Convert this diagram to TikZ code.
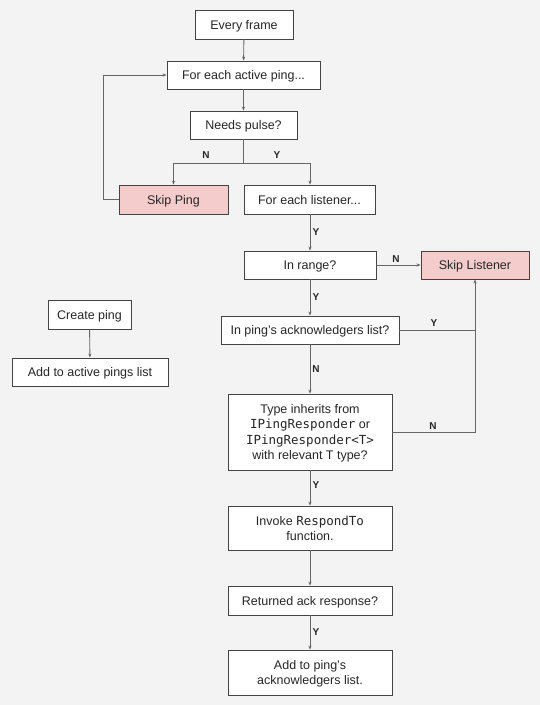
\documentclass[tikz,border=0pt]{standalone}
\usepackage{fontspec}
\setmainfont{Liberation Sans}
\newfontfamily\codefont{DejaVu Sans Mono}
\usetikzlibrary{arrows.meta}
\definecolor{bg}{HTML}{F3F3F3}
\definecolor{boxline}{HTML}{434343}
\definecolor{conn}{HTML}{666666}
\definecolor{skipfill}{HTML}{F4CCCC}
\newcommand{\cd}[1]{{\codefont #1}}
\tikzset{
  box/.style={draw=boxline, line width=0.9pt, fill=white, inner sep=0pt, align=center,
    font=\fontsize{12.5}{15.3}\selectfont, text=black!85, text depth=0pt},
  skipbox/.style={box, fill=skipfill},
  conline/.style={draw=conn, line width=0.9pt},
  arr/.style={conline, -{Stealth[length=4pt,width=3.2pt]}},
  lab/.style={font=\fontsize{10}{12}\selectfont\bfseries, text=black!85, inner sep=0pt}
}
\begin{document}
\begin{tikzpicture}[x=1pt,y=-1pt]
\fill[bg] (0,0) rectangle (540,705);
\useasboundingbox (0,0) rectangle (540,705);

\node[box, minimum width=98pt, minimum height=29pt] (every) at (244,24.5) {Every frame};
\node[box, minimum width=153pt, minimum height=28pt] (foreach) at (243.5,75) {For each active ping...};
\node[box, minimum width=107pt, minimum height=28pt] (pulse) at (243.5,125) {Needs pulse?};
\node[skipbox, minimum width=109pt, minimum height=29pt] (skipping) at (173.5,199.5) {Skip Ping};
\node[box, minimum width=131pt, minimum height=29pt] (listener) at (309.5,199.5) {For each listener...};
\node[box, minimum width=132pt, minimum height=28pt] (range) at (310,265) {In range?};
\node[skipbox, minimum width=108pt, minimum height=28pt] (skiplist) at (475,265) {Skip Listener};
\node[box, minimum width=178pt, minimum height=28pt] (ack) at (310,330) {In ping's acknowledgers list?};
\node[box, minimum width=164pt, minimum height=76pt] (type) at (310,432)
  {Type inherits from\\ \cd{IPingResponder} or\\ \cd{IPingResponder<T>}\\ with relevant T type?};
\node[box, minimum width=164pt, minimum height=44pt] (invoke) at (310,528) {Invoke \cd{RespondTo}\\ function.};
\node[box, minimum width=164pt, minimum height=29pt] (returned) at (310,600.5) {Returned ack response?};
\node[box, minimum width=164pt, minimum height=45pt] (add) at (310,672.5) {Add to ping's\\ acknowledgers list.};
\node[box, minimum width=83pt, minimum height=29pt] (create) at (89.5,314.5) {Create ping};
\node[box, minimum width=156pt, minimum height=28pt] (addactive) at (90,372) {Add to active pings list};

\coordinate (br) at (243.5,163);
\coordinate (loopc) at (103,199.5);
\coordinate (ackright) at (475,330);
\coordinate (typeright) at (475,432);

\draw[arr] (every) -- (foreach);
\draw[arr] (foreach) -- (pulse);
\draw[conline] (pulse) -- (br);
\draw[arr] (br) -| (skipping.north);
\draw[arr] (br) -| ([xshift=0.5pt]listener.north);
\draw[arr] (skipping.west) -- (loopc) |- (foreach.west);
\draw[arr] ([xshift=0.5pt]listener.south) -- (range.north);
\draw[arr] (range.east) -- (skiplist.west);
\draw[arr] (range) -- (ack);
\draw[conline] (ack.east) -- (ackright);
\draw[arr] (type.east) -- (typeright) -- (skiplist.south);
\draw[arr] (ack) -- (type);
\draw[arr] (type) -- (invoke);
\draw[arr] (invoke) -- (returned);
\draw[arr] (returned) -- (add);
\draw[arr] (create) -- (addactive);

\node[lab] (l1) at (206,155) {N};
\node[lab] (l2) at (277,155) {Y};
\node[lab] (l3) at (316,232) {Y};
\node[lab] (l4) at (396,259) {N};
\node[lab] (l5) at (316,297) {Y};
\node[lab] (l6) at (434,323) {Y};
\node[lab] (l7) at (316,369) {N};
\node[lab] (l8) at (433,426) {N};
\node[lab] (l9) at (316,485) {Y};
\node[lab] (l10) at (316,632) {Y};
\end{tikzpicture}
\end{document}
